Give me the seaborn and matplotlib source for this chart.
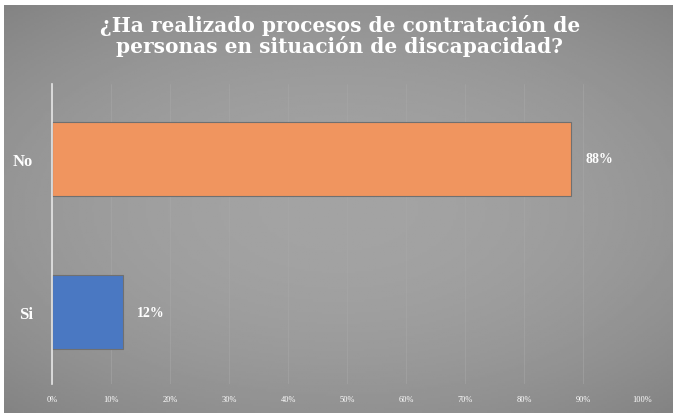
import numpy as np
import pandas as pd
import seaborn as sns
from matplotlib import pyplot as plt
from matplotlib.ticker import PercentFormatter

# data
categories = ["No", "Si"]
percentages = [88, 12]
bar_colors = ["#F0955F", "#4A78C2"]
title = "¿Ha realizado procesos de contratación de\npersonas en situación de discapacidad?"

df = pd.DataFrame({"respuesta": categories, "porcentaje": percentages})

sns.set_theme(style="white")
plt.rcParams["font.family"] = ["Liberation Serif", "DejaVu Serif"]

fig = plt.figure(figsize=(6.73, 4.14), dpi=100, facecolor="white")

# gray radial background, white strip at top and left like the scan
bg = fig.add_axes([0.006, 0, 0.994, 0.986])
yy, xx = np.mgrid[-1:1:200j, -1:1:300j]
shade = 0.64 - 0.07 * (xx ** 2 * 0.8 + yy ** 2)
bg.imshow(shade, cmap="gray", vmin=0, vmax=1, aspect="auto", extent=[0, 1, 0, 1])
bg.set_axis_off()

ax = fig.add_axes([0.0773, 0.07, 0.877, 0.725])
ax.patch.set_alpha(0)
sns.barplot(data=df, y="respuesta", x="porcentaje", hue="respuesta",
            palette=bar_colors, saturation=1, orient="h", width=0.48,
            legend=False, ax=ax, edgecolor="#707070", linewidth=0.8)

ax.set_xlim(0, 100)
ax.set_ylim(1.47, -0.49)
ax.set_xticks(range(0, 101, 10))
ax.xaxis.set_major_formatter(PercentFormatter(decimals=0))
ax.tick_params(axis="x", colors="white", labelsize=6, length=0, pad=8)
ax.tick_params(axis="y", colors="white", labelsize=12, length=0, pad=14)
for lab in ax.get_yticklabels():
    lab.set_fontweight("bold")
ax.set_xlabel("")
ax.set_ylabel("")
ax.grid(axis="x", color="#a8a8a8", linewidth=0.6, alpha=0.6)
ax.set_axisbelow(True)
for side in ["top", "right", "bottom"]:
    ax.spines[side].set_visible(False)
ax.spines["left"].set_color("#e6e6e6")
ax.spines["left"].set_linewidth(1.2)

for cont in ax.containers:
    ax.bar_label(cont, fmt="%d%%", padding=10, color="white", fontsize=10,
                 fontweight="bold")

fig.text(0.505, 0.913, title, ha="center", va="center", color="white",
         fontsize=14.5, fontweight="bold", linespacing=1.05,
         family=["DejaVu Serif"])

fig.savefig("out.png", dpi=100)
